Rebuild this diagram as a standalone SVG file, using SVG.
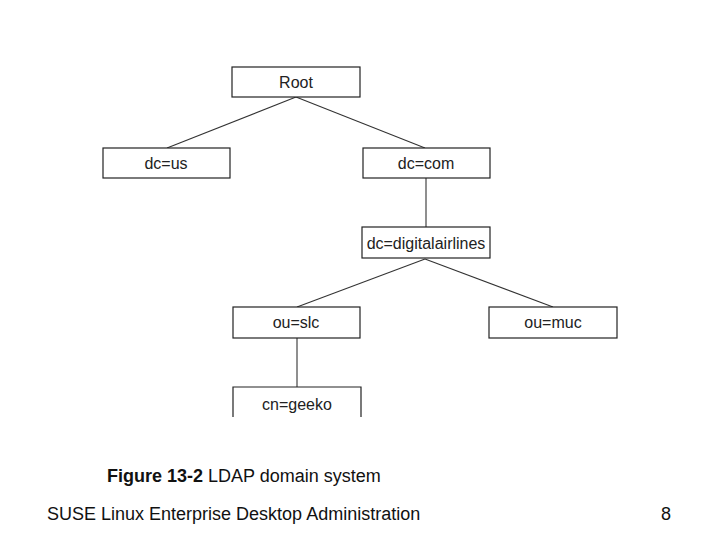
<svg xmlns="http://www.w3.org/2000/svg" width="720" height="540" viewBox="0 0 720 540">
<style>
.box{fill:#fff;stroke:#222;stroke-width:1.2}
.lbl{font-family:"Liberation Sans",Arial,sans-serif;font-size:16px;fill:#222;text-anchor:middle}
.conn line{stroke:#333;stroke-width:1.1}
.cap{font-family:"Liberation Sans",Arial,sans-serif;font-size:18px;fill:#111}
</style>
<rect width="720" height="540" fill="#fff"/>
<g id="connectors" class="conn">
<line x1="296" y1="97" x2="167" y2="148"/>
<line x1="296" y1="97" x2="425" y2="148"/>
<line x1="426" y1="178" x2="426" y2="227"/>
<line x1="425" y1="259" x2="297" y2="307"/>
<line x1="425" y1="259" x2="553" y2="307"/>
<line x1="297" y1="338" x2="297" y2="387"/>
</g>
<g id="root"><rect class="box" x="232" y="67" width="128" height="30"/><text class="lbl" x="296" y="88">Root</text></g>
<g id="dc-us"><rect class="box" x="103" y="148" width="127" height="30"/><text class="lbl" x="166" y="169">dc=us</text></g>
<g id="dc-com"><rect class="box" x="363" y="148" width="127" height="30"/><text class="lbl" x="426" y="169">dc=com</text></g>
<g id="dc-digitalairlines"><rect class="box" x="362" y="227" width="128" height="31"/><text class="lbl" x="426" y="249">dc=digitalairlines</text></g>
<g id="ou-slc"><rect class="box" x="233" y="307" width="127" height="31"/><text class="lbl" x="296" y="328">ou=slc</text></g>
<g id="ou-muc"><rect class="box" x="489" y="307" width="128" height="31"/><text class="lbl" x="553" y="328">ou=muc</text></g>
<g id="cn-geeko"><path d="M233 417 V387 H361 V417" fill="none" stroke="#222" stroke-width="1.2"/><text class="lbl" x="297" y="410">cn=geeko</text></g>
<text class="cap" x="107" y="482"><tspan font-weight="bold">Figure 13-2</tspan> LDAP domain system</text>
<text class="cap" x="47" y="520">SUSE Linux Enterprise Desktop Administration</text>
<text class="cap" x="661" y="520">8</text>
</svg>
